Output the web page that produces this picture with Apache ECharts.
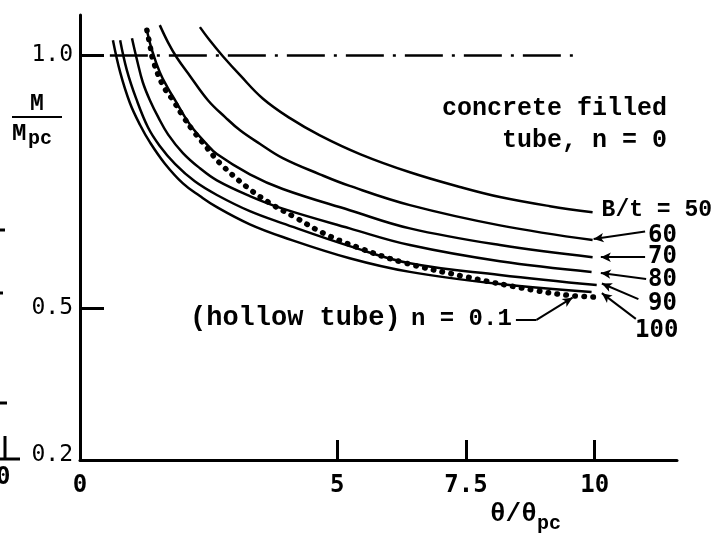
<!DOCTYPE html>
<html>
<head>
<meta charset="utf-8">
<script src="https://cdn.jsdelivr.net/npm/echarts@6/dist/echarts.min.js"></script>
<style>
  html, body { margin: 0; padding: 0; background: #fff; }
  #chart { width: 724px; height: 538px; }
</style>
</head>
<body>
<div id="chart"></div>
<script>
// axis ticks / labels
var xTicks = [5, 7.5, 10];
var xLabels = [0, 5, 7.5, 10];
var yTicks = [0.5, 1.0];
var yLabels = [0.2, 0.5, 1.0];

// concrete filled tube, n = 0  (theta/theta_pc, M/Mpc)
var bt50 = [[2.33,1.056],[2.52,1.03],[2.78,0.998],[3.11,0.961],[3.55,0.915],[4.08,0.876],[4.66,0.842],[5.44,0.805],[6.41,0.769],[7.38,0.74],[8.16,0.72],[9.13,0.702],[9.96,0.69]];
var bt60 = [[1.55,1.06],[1.71,1.026],[1.88,0.996],[2.14,0.959],[2.49,0.911],[2.82,0.878],[3.11,0.852],[3.5,0.825],[3.94,0.797],[4.66,0.765],[5.24,0.742],[6.41,0.704],[8.16,0.664],[9.96,0.635]];
var bt70 = [[1.30,1.05],[1.40,1.01],[1.55,0.967],[1.71,0.935],[1.85,0.911],[2.04,0.878],[2.19,0.856],[2.43,0.828],[2.66,0.805],[3.3,0.765],[3.94,0.736],[5.24,0.694],[6.41,0.658],[8.16,0.625],[9.96,0.601]];
var bt80 = [[1.01,1.034],[1.11,0.99],[1.22,0.947],[1.36,0.911],[1.52,0.878],[1.71,0.844],[2.0,0.807],[2.33,0.777],[2.66,0.753],[3.3,0.722],[3.94,0.697],[5.24,0.658],[6.41,0.625],[8.16,0.593],[9.94,0.572]];
var bt90 = [[0.78,1.03],[0.91,0.971],[1.09,0.915],[1.32,0.858],[1.55,0.821],[1.85,0.785],[2.23,0.751],[2.66,0.724],[3.3,0.692],[3.94,0.668],[5.24,0.623],[6.41,0.589],[8.16,0.566],[10.04,0.546]];
var bt100 = [[0.64,1.03],[0.78,0.967],[0.97,0.906],[1.17,0.862],[1.36,0.828],[1.65,0.786],[2.0,0.747],[2.33,0.722],[2.66,0.70],[3.3,0.666],[3.94,0.641],[5.24,0.599],[6.41,0.572],[8.16,0.548],[9.94,0.532]];

// hollow tube, n = 0.1 (dotted)
var hollow = [[1.30,1.05],[1.36,1.02],[1.42,0.99],[1.61,0.941],[1.81,0.911],[2.0,0.88],[2.19,0.852],[2.47,0.817],[2.72,0.787],[3.24,0.74],[3.69,0.708],[4.21,0.678],[4.72,0.649],[5.38,0.621],[6.27,0.591],[7.51,0.562],[8.8,0.536],[9.46,0.526],[10.04,0.522]];

// M/Mpc = 1.0 reference line (dash-dot)
var refLine = [[0.58,1.0],[9.67,1.0]];

// leader arrows to curve ends (data units)
var arrows = [
  [[10.98,0.652],[9.98,0.637]],
  [[10.98,0.601],[10.12,0.601]],
  [[11.0,0.558],[10.12,0.570]],
  [[10.85,0.518],[10.14,0.549]],
  [[10.8,0.479],[10.14,0.530]],
  [[8.87,0.477],[9.57,0.521]]
];
var leaderFlat = [[8.47,0.477],[8.87,0.477]];

var mono = '"DejaVu Sans Mono", monospace';
var type = '"Liberation Mono"';

var myChart = echarts.init(document.getElementById('chart'));

function curve(name, data) {
    return {
        name: name,
        type: 'line',
        data: data,
        showSymbol: false,
        smooth: 0.4,
        lineStyle: { color: '#000', width: 2.5 },
        silent: true
    };
}

function txt(text, pos, size, family) {
    var el = { type: 'text', style: { text: text, fontFamily: family, fontSize: size, fontWeight: 'bold', fill: '#000' } };
    for (var k in pos) el[k] = pos[k];
    return el;
}

var series = [
    curve('50', bt50), curve('60', bt60), curve('70', bt70),
    curve('80', bt80), curve('90', bt90), curve('100', bt100),
    {
        name: 'hollow',
        type: 'line',
        data: hollow,
        showSymbol: false,
        smooth: 0.4,
        lineStyle: { color: '#000', width: 5.5, type: [0.5, 8.5], cap: 'round' },
        silent: true
    },
    {
        name: 'ref',
        type: 'line',
        data: refLine,
        showSymbol: false,
        lineStyle: { color: '#000', width: 2.5, type: [38, 9, 3, 9] },
        silent: true,
        markLine: {
            silent: true,
            symbol: ['none', 'arrow'],
            symbolSize: [7, 10],
            label: { show: false },
            lineStyle: { color: '#000', width: 2, type: 'solid' },
            data: arrows.map(function (a) {
                return [{ coord: a[0] }, { coord: a[1] }];
            }).concat([[{ coord: leaderFlat[0], symbol: 'none' }, { coord: leaderFlat[1], symbol: 'none' }]])
        }
    }
];

myChart.setOption({
    animation: false,
    backgroundColor: '#fff',
    grid: { left: 80, right: 47, top: 15, bottom: 78 },
    xAxis: {
        type: 'value',
        min: 0,
        max: 11.6,
        axisLine: { lineStyle: { color: '#000', width: 3 } },
        axisTick: { show: true, inside: true, length: 20, customValues: xTicks, lineStyle: { color: '#000', width: 3 } },
        axisLabel: {
            customValues: xLabels,
            formatter: function (v) { return String(v); },
            margin: 14,
            color: '#000',
            fontFamily: mono,
            fontWeight: 'bold',
            fontSize: 24
        },
        splitLine: { show: false }
    },
    yAxis: {
        type: 'value',
        min: 0.2,
        max: 1.08,
        axisLine: { show: true, lineStyle: { color: '#000', width: 3 } },
        axisTick: { show: true, inside: true, length: 24, customValues: yTicks, lineStyle: { color: '#000', width: 3 } },
        axisLabel: {
            customValues: yLabels,
            formatter: function (v) {
                return v < 0.3 ? '{low|0.2}' : v.toFixed(1);
            },
            margin: 7,
            color: '#000',
            fontFamily: mono,
            fontSize: 23,
            rich: {
                low: { fontFamily: mono, fontSize: 23, color: '#000', padding: [0, 0, 10, 0] }
            }
        },
        splitLine: { show: false }
    },
    graphic: [
        // y axis name  M / Mpc
        txt('M', { left: 30, top: 93 }, 23, type),
        { type: 'line', shape: { x1: 12, y1: 117, x2: 62, y2: 117 }, style: { stroke: '#000', lineWidth: 2 } },
        txt('M', { left: 12, top: 122 }, 24, type),
        txt('pc', { left: 28, top: 129 }, 20, type),
        // x axis name  theta / theta pc
        txt('θ/θ', { left: 490, top: 501 }, 26, type),
        txt('pc', { left: 537, top: 514 }, 20, type),
        // annotations
        txt('concrete filled', { right: 724 - 667, top: 96 }, 25, type),
        txt('tube, n = 0', { right: 724 - 667, top: 128 }, 25, type),
        txt('B/t = 50', { right: 724 - 712, top: 199 }, 23, type),
        txt('60', { left: 648, top: 224 }, 24, mono),
        txt('70', { left: 648, top: 245 }, 24, mono),
        txt('80', { left: 648, top: 268 }, 24, mono),
        txt('90', { left: 648, top: 292 }, 24, mono),
        txt('100', { left: 635, top: 319 }, 24, mono),
        txt('(hollow tube)', { left: 190, top: 305 }, 27, type),
        txt('n = 0.1', { left: 411, top: 307 }, 24, type),
        // remnants of the neighbouring figure at the left edge
        { type: 'line', shape: { x1: 5, y1: 436, x2: 5, y2: 459 }, style: { stroke: '#000', lineWidth: 3 } },
        { type: 'line', shape: { x1: 0, y1: 459, x2: 20, y2: 459 }, style: { stroke: '#000', lineWidth: 3 } },
        txt('0', { left: -4, top: 466 }, 24, mono),
        { type: 'line', shape: { x1: 0, y1: 230, x2: 5, y2: 230 }, style: { stroke: '#000', lineWidth: 3 } },
        { type: 'line', shape: { x1: 0, y1: 293, x2: 3, y2: 293 }, style: { stroke: '#000', lineWidth: 3 } },
        { type: 'line', shape: { x1: 0, y1: 403, x2: 7, y2: 403 }, style: { stroke: '#000', lineWidth: 3 } }
    ],
    series: series
});
</script>
</body>
</html>
